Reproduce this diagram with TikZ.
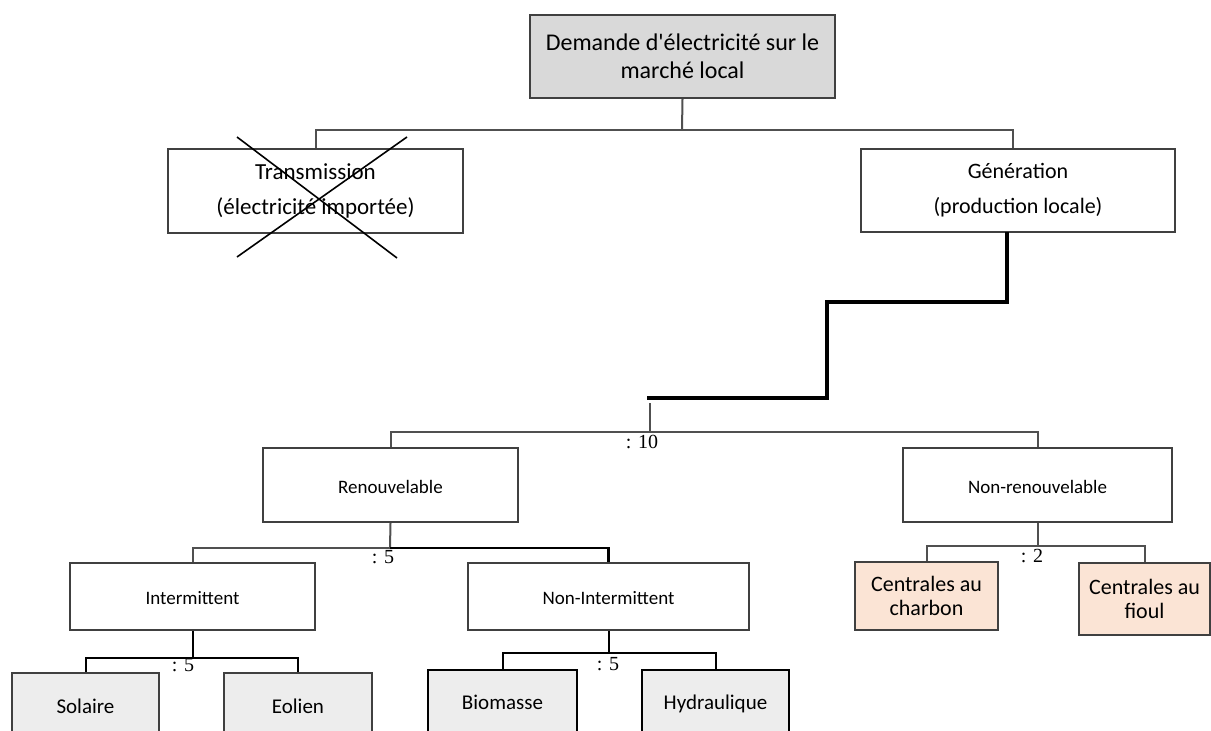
\documentclass[tikz,border=0pt]{standalone}
\usepackage{fontspec}
\setmainfont{Carlito}[Ligatures=TeXOff]
\newfontfamily\numfont{Liberation Serif}
\definecolor{boxline}{HTML}{404040}
\definecolor{conline}{HTML}{505050}
\definecolor{topfill}{HTML}{D9D9D9}
\definecolor{leaffill}{HTML}{EDEDED}
\definecolor{peach}{HTML}{FBE4D5}
\tikzset{
  box/.style={draw=boxline, line width=2.2pt, rectangle, align=center, inner sep=0pt},
  midbox/.style={box, font=\fontsize{19}{22}\selectfont, text height=17pt, text depth=1pt},
  leafbox/.style={box, fill=leaffill, font=\fontsize{21}{24}\selectfont, text height=17pt, text depth=3pt},
  boldleaf/.style={leafbox, draw=black},
  plantbox/.style={box, fill=peach, font=\fontsize{22}{24.5}\selectfont},
  conn/.style={draw=conline, line width=2pt},
  bconn/.style={draw=black, line width=2.4pt},
  thick conn/.style={draw=black, line width=4pt},
  ratio/.style={font=\numfont\fontsize{20}{20}\selectfont, inner sep=0pt},
  cross/.style={draw=black, line width=1.6pt},
}
\begin{document}
\begin{tikzpicture}[x=1pt,y=-1pt]
\useasboundingbox (0,0) rectangle (1211,731);
\clip (0,0) rectangle (1211,731);
% nodes
\node[box, fill=topfill, minimum width=305pt, minimum height=83pt, font=\fontsize{24}{28}\selectfont] (top) at (682.5,56.5) {Demande d'électricité sur le\\marché local};
\node[box, minimum width=295pt, minimum height=84pt, font=\fontsize{23}{35}\selectfont] (trans) at (315.5,191) {Transmission\\(électricité importée)};
\node[box, minimum width=314pt, minimum height=83pt, font=\fontsize{22}{35}\selectfont] (gen) at (1018,190.5) {Génération\\(production locale)};
\node[midbox, minimum width=255pt, minimum height=74pt] (ren) at (390.5,485) {Renouvelable};
\node[midbox, minimum width=269pt, minimum height=74pt] (nonren) at (1037.5,485) {Non-renouvelable};
\node[midbox, minimum width=245pt, minimum height=67pt] (inter) at (192.5,596.5) {Intermittent};
\node[midbox, minimum width=281pt, minimum height=67pt] (nonint) at (608.5,596.5) {Non-Intermittent};
\node[leafbox, minimum width=147pt, minimum height=66pt] (sol) at (85.5,706) {Solaire};
\node[leafbox, minimum width=148pt, minimum height=66pt] (eol) at (298,706) {Eolien};
\node[boldleaf, minimum width=149pt, minimum height=64pt] (bio) at (502.5,702) {Biomasse};
\node[boldleaf, minimum width=147pt, minimum height=64pt] (hyd) at (715.5,702) {Hydraulique};
\node[plantbox, minimum width=143pt, minimum height=68pt] (charbon) at (926.5,596) {Centrales au\\charbon};
\node[plantbox, minimum width=131pt, minimum height=72pt] (fioul) at (1144.5,599) {Centrales au\\fioul};
% cross over Transmission
\coordinate (c1) at (237,137); \coordinate (c2) at (397,258);
\coordinate (c3) at (407,137); \coordinate (c4) at (237,257);
\draw[cross] (c1) -- (c2);
\draw[cross] (c3) -- (c4);
% level 1
\coordinate (b1) at (682,130);
\draw[conn] (top.south) -- (b1);
\draw[conn] (trans.north) |- (b1) -| ([xshift=-5pt]gen.north);
% thick path from Generation
\coordinate (g0) at (1007,232);
\coordinate (g1) at (1007,302);
\coordinate (g2) at (827,302);
\coordinate (g3) at (827,398);
\coordinate (g4) at (647,398);
\draw[thick conn, line join=miter] (g0) -- (g1) -- (g2) -- (g3) -- (g4);
\coordinate (r0) at (650,403);
\coordinate (r1) at (650,432);
\draw[conn] (r0) -- (r1);
\draw[conn] (ren.north) |- (r1) -| (nonren.north);
\node[ratio] (l10) at (642,442) {: 10};
% renouvelable split
\coordinate (s1) at (390,548);
\draw[conn] (ren.south) -- (s1);
\draw[conn] (s1) -| (inter.north);
\draw[bconn] (s1) -| (nonint.north);
\node[ratio] (l5a) at (383,557) {: 5};
% non-renouvelable split
\coordinate (s2) at (1037.5,546);
\draw[conn] (nonren.south) -- (s2);
\draw[conn] (charbon.north) |- (s2) -| (fioul.north);
\node[ratio] (l2) at (1032,556) {: 2};
% intermittent split
\coordinate (s3) at (192.5,658);
\draw[bconn, line width=2pt] (inter.south) -- (s3);
\draw[bconn, line width=2pt] (sol.north) |- (s3) -| (eol.north);
\node[ratio] (l5b) at (183,665) {: 5};
% non-intermittent split
\coordinate (s4) at (608.5,653);
\draw[bconn, line width=2pt] (nonint.south) -- (s4);
\draw[bconn, line width=2pt] (bio.north) |- (s4) -| (hyd.north);
\node[ratio] (l5c) at (608,664) {: 5};
\end{tikzpicture}
\end{document}
